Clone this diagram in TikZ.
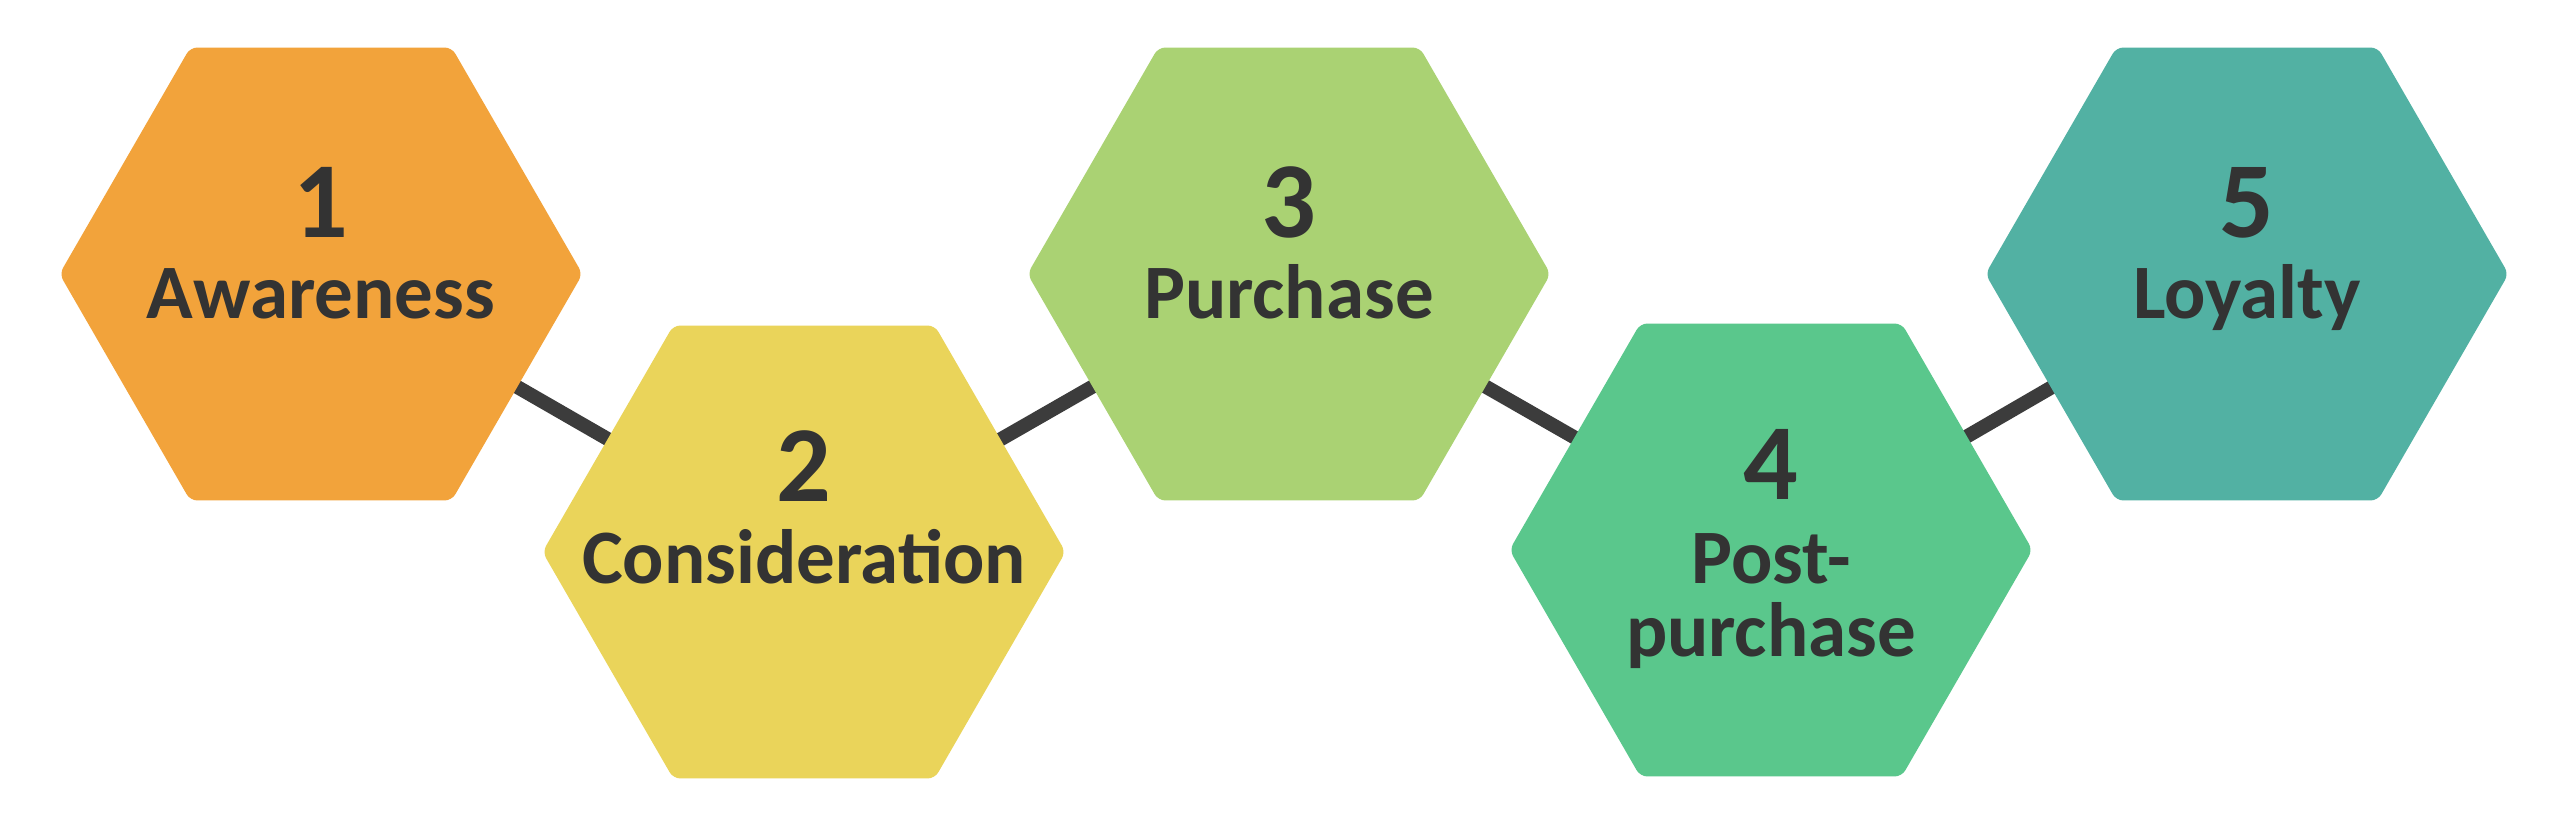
\documentclass[tikz,border=0pt]{standalone}
\usepackage{fontspec}
\setmainfont{Carlito}
\usetikzlibrary{shapes.geometric,backgrounds}
\definecolor{cOrange}{HTML}{F2A33B}
\definecolor{cYellow}{HTML}{EAD45A}
\definecolor{cLight}{HTML}{AAD273}
\definecolor{cGreen}{HTML}{5AC78C}
\definecolor{cTeal}{HTML}{52B1A3}
\definecolor{cLine}{HTML}{3C3C3C}
\definecolor{cText}{HTML}{333333}
\tikzset{
  hexbox/.style={regular polygon, regular polygon sides=6, minimum size=523pt,
    inner sep=0pt, draw=none, rounded corners=7pt},
  numtext/.style={anchor=base, text=cText, inner sep=0pt,
    font=\fontsize{108}{110}\selectfont\bfseries},
  labtext/.style={anchor=base, text=cText, inner sep=0pt,
    font=\fontsize{77}{80}\selectfont\bfseries},
  link/.style={draw=cLine, line width=14pt}
}
\begin{document}
\begin{tikzpicture}[x=1pt,y=-1pt]
\useasboundingbox (0,0) rectangle (2560,837);
\node[hexbox, fill=cOrange] (h1) at (321,274) {};
\node[hexbox, fill=cYellow] (h2) at (804,552) {};
\node[hexbox, fill=cLight] (h3) at (1289,274) {};
\node[hexbox, fill=cGreen] (h4) at (1771,550) {};
\node[hexbox, fill=cTeal] (h5) at (2247,274) {};
\begin{scope}[on background layer]
  \fill[white] (0,0) rectangle (2560,837);
  \draw[link] (h1.center) -- (h2.center);
  \draw[link] (h2.center) -- (h3.center);
  \draw[link] (h3.center) -- (h4.center);
  \draw[link] (h4.center) -- (h5.center);
\end{scope}
\node[numtext] (n1) at (321,237) {1};
\node[labtext] (l1) at (321,318) {Awareness};
\node[numtext] (n2) at (804,501) {2};
\node[labtext] (l2) at (804,583) {Consideration};
\node[numtext] (n3) at (1289,237) {3};
\node[labtext] (l3) at (1289,318) {Purchase};
\node[numtext] (n4) at (1771,499) {4};
\node[labtext] (l4a) at (1771,583) {Post-};
\node[labtext] (l4b) at (1771,656) {purchase};
\node[numtext] (n5) at (2247,237) {5};
\node[labtext] (l5) at (2247,318) {Loyalty};
\end{tikzpicture}
\end{document}
